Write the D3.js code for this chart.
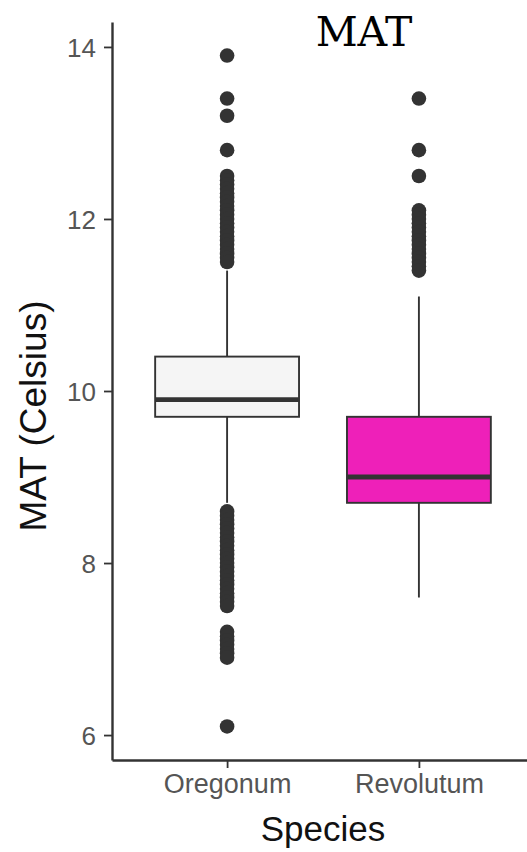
<!DOCTYPE html>
<html>
<head>
<meta charset="utf-8">
<title>MAT boxplot</title>
<style>
  body{margin:0;background:#fff;}
  svg{display:block;}
  .tick text{font-family:"Liberation Sans",Arial,sans-serif;fill:#555;}
</style>
</head>
<body>
<div id="container"></div>
<script src="https://cdn.jsdelivr.net/npm/d3@7"></script>
<script>
var species = ["Oregonum", "Revolutum"];
var boxColors = ["#f5f5f5", "#ee20b9"];
// five-number summaries: whisker low, q1, median, q3, whisker high
var oregonumStats = [8.7, 9.7, 9.9, 10.4, 11.4];
var revolutumStats = [7.6, 8.7, 9.0, 9.7, 11.1];
var oregonumOutliers = [13.9, 13.4, 13.2, 12.8,
  12.5, 12.45, 12.4, 12.35, 12.3, 12.25, 12.2, 12.15, 12.1, 12.05, 12.0, 11.95, 11.9, 11.85,
  11.8, 11.75, 11.7, 11.65, 11.6, 11.55, 11.5,
  8.6, 8.55, 8.5, 8.45, 8.4, 8.35, 8.3, 8.25, 8.2, 8.15, 8.1, 8.05, 8.0, 7.95, 7.9, 7.85,
  7.8, 7.75, 7.7, 7.65, 7.6, 7.55, 7.5,
  7.2, 7.15, 7.1, 7.05, 7.0, 6.95, 6.9, 6.1];
var revolutumOutliers = [13.4, 12.8, 12.5,
  12.1, 12.05, 12.0, 11.95, 11.9, 11.85, 11.8, 11.75, 11.7, 11.65, 11.6, 11.55, 11.5, 11.45, 11.4];
var yTicks = [6, 8, 10, 12, 14];

var W = 527, H = 852;
var mLeft = 112, mTop = 22, mBottom = 760, mRight = 534;

var svg = d3.select("#container").append("svg")
  .attr("width", W).attr("height", H);

var stats = [oregonumStats, revolutumStats];
var outliers = [oregonumOutliers, revolutumOutliers];

var allVals = d3.merge([oregonumStats, revolutumStats, oregonumOutliers, revolutumOutliers]);
var ext = d3.extent(allVals);
var pad = (ext[1] - ext[0]) * 0.05;

var y = d3.scaleLinear().domain([ext[0] - pad, ext[1] + pad]).range([mBottom, mTop]);
var x = d3.scalePoint().domain(species).range([mLeft, mRight]).padding(0.6);
var boxW = x.step() * 0.75;

species.forEach(function(s, i){
  var st = stats[i];
  var g = svg.append("g");
  // whisker
  g.append("line").attr("x1", x(s)).attr("x2", x(s))
    .attr("y1", y(st[0])).attr("y2", y(st[4]))
    .attr("stroke", "#333").attr("stroke-width", 1.9);
  g.append("rect")
    .attr("x", x(s) - boxW / 2).attr("width", boxW)
    .attr("y", y(st[3])).attr("height", y(st[1]) - y(st[3]))
    .attr("fill", boxColors[i]).attr("stroke", "#333").attr("stroke-width", 1.9);
  g.append("line").attr("x1", x(s) - boxW / 2).attr("x2", x(s) + boxW / 2)
    .attr("y1", y(st[2])).attr("y2", y(st[2]))
    .attr("stroke", "#333").attr("stroke-width", 4.8);
  g.selectAll("circle").data(outliers[i]).enter().append("circle")
    .attr("cx", x(s)).attr("cy", function(d){ return y(d); })
    .attr("r", 7.3).attr("fill", "#333");
});

// axes
var yAxis = svg.append("g").attr("transform", "translate(" + mLeft + ",0)")
  .call(d3.axisLeft(y).tickValues(yTicks).tickSize(8).tickSizeOuter(0).tickPadding(8));
var xAxis = svg.append("g").attr("transform", "translate(0," + mBottom + ")")
  .call(d3.axisBottom(x).tickSize(8).tickSizeOuter(0).tickPadding(6));

svg.selectAll(".domain").attr("stroke", "#333").attr("stroke-width", 2.4);
svg.selectAll(".tick line").attr("stroke", "#333").attr("stroke-width", 1.8);
yAxis.selectAll(".tick text").style("font-size", "26px").attr("dy", "0.35em");
xAxis.selectAll(".tick text").style("font-size", "27px");

// axis titles
svg.append("text")
  .attr("transform", "translate(46,416) rotate(-90)")
  .attr("text-anchor", "middle")
  .style("font-family", "Liberation Sans, Arial, sans-serif")
  .style("font-size", "37px")
  .attr("fill", "#111")
  .text("MAT (Celsius)");

svg.append("text")
  .attr("x", 323).attr("y", 841)
  .attr("text-anchor", "middle")
  .style("font-family", "Liberation Sans, Arial, sans-serif")
  .style("font-size", "35px")
  .attr("fill", "#111")
  .text("Species");

svg.append("text")
  .attr("x", 364).attr("y", 46)
  .attr("text-anchor", "middle")
  .style("font-family", "DejaVu Serif, serif")
  .style("font-size", "41px")
  .attr("fill", "#000")
  .text("MAT");
</script>
</body>
</html>
